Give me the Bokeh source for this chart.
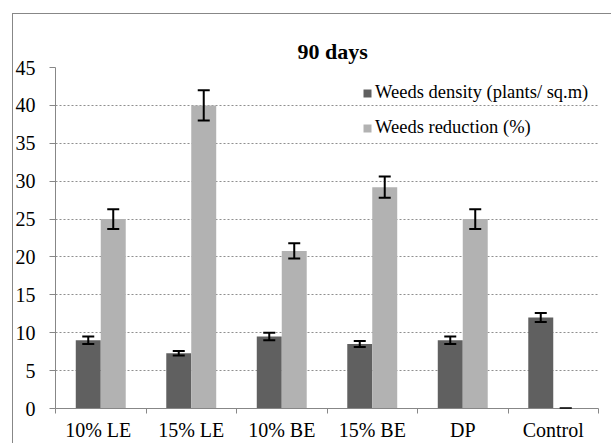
from bokeh.plotting import figure
from bokeh.models import (ColumnDataSource, Range1d, LinearAxis,
                          FixedTicker, Whisker, TeeHead, Legend, LegendItem)
from bokeh.transform import dodge
from bokeh.embed import file_html
from bokeh.resources import INLINE

# ---- data ----
categories = ["10%  LE", "15% LE", "10% BE", "15% BE", "DP", "Control"]
density = [9.0, 7.3, 9.5, 8.5, 9.0, 12.0]
density_err = [0.5, 0.3, 0.5, 0.4, 0.5, 0.6]
reduction = [25.0, 40.0, 20.8, 29.2, 25.0, 0.0]
reduction_err = [1.3, 2.0, 1.0, 1.4, 1.3, 0.0]
y_ticks = [0, 5, 10, 15, 20, 25, 30, 35, 40, 45]
title_text = "90 days"
series_names = ["Weeds density (plants/ sq.m)", "Weeds reduction (%)"]

n = len(categories)
centers = [i + 0.5 for i in range(n)]          # category slot centres on a 0..n axis
boundaries = list(range(n + 1))                 # category slot edges

src = ColumnDataSource(dict(
    xc=centers,
    density=density,
    d_up=[v + e for v, e in zip(density, density_err)],
    d_lo=[v - e for v, e in zip(density, density_err)],
    reduction=reduction,
    r_up=[v + e for v, e in zip(reduction, reduction_err)],
    r_lo=[v - e for v, e in zip(reduction, reduction_err)],
))

FONT = "Liberation Serif"
DARK = "#606060"
LIGHT = "#b2b2b2"
AXIS = "#878787"

p = figure(width=611, height=443, output_backend="svg", toolbar_location=None,
           x_range=Range1d(0, n), y_range=Range1d(0, 45),
           x_axis_location=None,
           min_border_left=55, min_border_right=13, min_border_top=67, min_border_bottom=34)
p.border_fill_color = None
p.outline_line_color = None
p.background_fill_color = "white"
p.styles = {"background-color": "white",
            "box-shadow": "inset 12px 13px 0 0 white, inset 13px 14px 0 0 #878787"}

# title
p.title.text = title_text
p.title.align = "left"
p.title.offset = 242
p.title.standoff = 8
p.title.text_font = FONT
p.title.text_font_size = "22px"
p.title.text_font_style = "bold"
p.title.text_color = "black"

# y axis
ya = p.yaxis[0]
ya.ticker = FixedTicker(ticks=y_ticks)
ya.axis_line_color = AXIS
ya.major_tick_line_color = AXIS
ya.major_tick_out = 6
ya.major_tick_in = 0
ya.minor_tick_line_color = None
ya.major_label_text_font = FONT
ya.major_label_text_font_size = "20px"
ya.major_label_text_color = "black"
ya.major_label_standoff = 14

p.xgrid.grid_line_color = None
p.ygrid.ticker = FixedTicker(ticks=y_ticks[1:])
p.ygrid.grid_line_color = "#8f8f8f"
p.ygrid.grid_line_dash = "2 2"
p.ygrid.grid_line_width = 1

# x axis: labels at slot centres, tick marks at slot edges (minor ticks)
xa = LinearAxis(ticker=FixedTicker(ticks=centers, minor_ticks=boundaries),
                major_label_overrides={c: lab for c, lab in zip(centers, categories)},
                axis_line_color=AXIS, major_tick_line_color=None,
                major_tick_out=0, major_tick_in=0,
                minor_tick_line_color=AXIS, minor_tick_out=5, minor_tick_in=0,
                major_label_text_font=FONT, major_label_text_font_size="20px",
                major_label_text_color="black", major_label_standoff=5)
p.add_layout(xa, "below")

W = 0.276
r1 = p.vbar(x=dodge("xc", -W / 2), top="density", width=W, source=src,
            fill_color=DARK, line_color=None)
r2 = p.vbar(x=dodge("xc", W / 2), top="reduction", width=W, source=src,
            fill_color=LIGHT, line_color=None)

for off, up, lo in [(-W / 2, "d_up", "d_lo"), (W / 2, "r_up", "r_lo")]:
    wk = Whisker(source=src, base=dodge("xc", off), upper=up, lower=lo,
                 line_color="black", line_width=2, level="annotation",
                 upper_head=TeeHead(size=12, line_color="black", line_width=2),
                 lower_head=TeeHead(size=12, line_color="black", line_width=2))
    p.add_layout(wk)

legend = Legend(items=[LegendItem(label=series_names[0], renderers=[r1]),
                       LegendItem(label=series_names[1], renderers=[r2])],
                location=(307, 270), orientation="vertical",
                glyph_width=10, glyph_height=10, label_standoff=3,
                label_text_font=FONT, label_text_font_size="18.5px", label_text_color="black",
                spacing=14, padding=0, margin=0,
                background_fill_alpha=0, border_line_color=None)
p.add_layout(legend)

open("out.html", "w").write(file_html(p, INLINE))
